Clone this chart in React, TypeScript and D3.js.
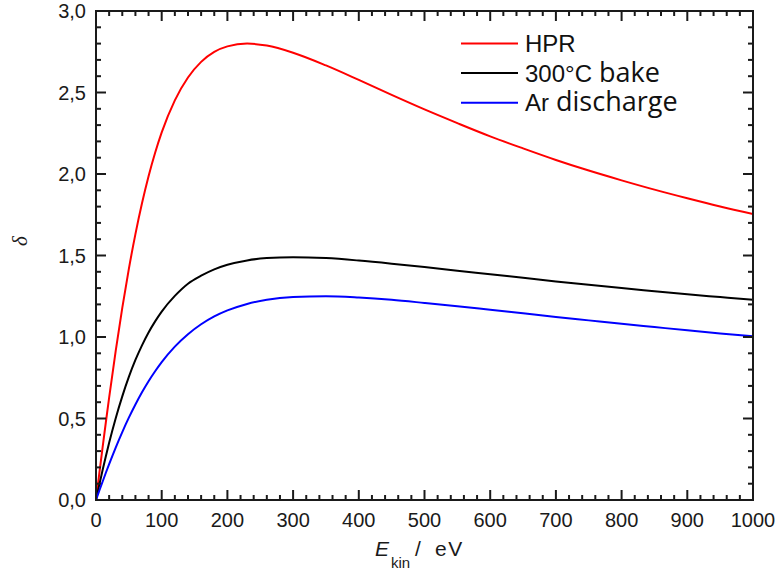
import React from "react";
import * as d3 from "d3";

const energies = [0, 5, 10, 15, 20, 30, 40, 50, 60, 70, 80, 90, 100, 120, 140, 160, 180, 200, 230, 260, 300, 350, 400, 450, 500, 550, 600, 650, 700, 750, 800, 850, 900, 950, 1000];
const hpr = [0, 0.162, 0.321, 0.477, 0.628, 0.915, 1.179, 1.418, 1.631, 1.82, 1.986, 2.13, 2.255, 2.452, 2.592, 2.688, 2.749, 2.783, 2.8, 2.788, 2.744, 2.666, 2.577, 2.485, 2.396, 2.312, 2.231, 2.157, 2.086, 2.021, 1.961, 1.904, 1.851, 1.801, 1.755];
const bake = [0, 0.093, 0.183, 0.269, 0.351, 0.502, 0.636, 0.755, 0.859, 0.949, 1.028, 1.096, 1.156, 1.252, 1.327, 1.376, 1.415, 1.443, 1.47, 1.484, 1.49, 1.484, 1.469, 1.45, 1.429, 1.407, 1.385, 1.363, 1.341, 1.32, 1.3, 1.281, 1.262, 1.245, 1.228];
const argon = [0, 0.057, 0.112, 0.167, 0.22, 0.322, 0.417, 0.505, 0.586, 0.661, 0.729, 0.79, 0.846, 0.941, 1.017, 1.078, 1.126, 1.163, 1.203, 1.228, 1.245, 1.25, 1.242, 1.228, 1.209, 1.189, 1.167, 1.145, 1.123, 1.102, 1.081, 1.061, 1.041, 1.022, 1.005];

const seriesNames = ["HPR", "300°C bake", "Ar discharge"];
const seriesColors = ["#ff0000", "#000000", "#0000ff"];
const xTicks = [0, 100, 200, 300, 400, 500, 600, 700, 800, 900, 1000];
const yTicks = [0, 0.5, 1.0, 1.5, 2.0, 2.5, 3.0];

export default function App() {
  const W = 778, H = 575;
  const L = 96, R = 753, T = 11, B = 500;
  const x = d3.scaleLinear().domain([0, 1000]).range([L, R]);
  const y = d3.scaleLinear().domain([0, 3]).range([B, T]);
  const line = d3.line<number>().x((_, i) => x(energies[i])).y((v) => y(v)).curve(d3.curveMonotoneX);
  const all = [hpr, bake, argon];
  const xMinor = d3.range(0, 1000.01, 20).filter((v) => Math.round(v) % 100 !== 0);
  const yMinor = d3.range(0, 3.001, 0.1).map((v) => Math.round(v * 10) / 10).filter((v) => Math.round(v * 10) % 5 !== 0);
  const fmt = (v: number) => d3.format(".1f")(v).replace(".", ",");
  const tickColor = "#1a1a1a";
  const sans = "'Liberation Sans', Arial, sans-serif";
  const legendFontB = "'Open Sans', sans-serif";
  return (
    <svg width={W} height={H} style={{ position: "absolute", left: 0, top: 0, background: "#fff" }}>
      <rect x={0} y={0} width={W} height={H} fill="#fff" />
      <defs>
        <clipPath id="clip">
          <rect x={L} y={T} width={R - L} height={B - T} />
        </clipPath>
      </defs>
      <g clipPath="url(#clip)">
        {all.map((s, i) => (
          <path key={i} d={line(s) || ""} fill="none" stroke={seriesColors[i]} strokeWidth={2} />
        ))}
      </g>
      <g stroke={tickColor} strokeWidth={2}>
        {xTicks.map((t) => (
          <g key={"xt" + t}>
            <line x1={x(t)} x2={x(t)} y1={B} y2={B - 10} />
            <line x1={x(t)} x2={x(t)} y1={T} y2={T + 10} />
          </g>
        ))}
        {xMinor.map((t) => (
          <g key={"xm" + t}>
            <line x1={x(t)} x2={x(t)} y1={B} y2={B - 5} />
            <line x1={x(t)} x2={x(t)} y1={T} y2={T + 5} />
          </g>
        ))}
        {yTicks.map((t) => (
          <g key={"yt" + t}>
            <line x1={L} x2={L + 10} y1={y(t)} y2={y(t)} />
            <line x1={R} x2={R - 10} y1={y(t)} y2={y(t)} />
          </g>
        ))}
        {yMinor.map((t) => (
          <g key={"ym" + t}>
            <line x1={L} x2={L + 5} y1={y(t)} y2={y(t)} />
            <line x1={R} x2={R - 5} y1={y(t)} y2={y(t)} />
          </g>
        ))}
      </g>
      <rect x={L} y={T} width={R - L} height={B - T} fill="none" stroke={tickColor} strokeWidth={2} />
      <g fontFamily={sans} fontSize={20} fill="#1a1a1a">
        {xTicks.map((t) => (
          <text key={"xl" + t} x={x(t)} y={527} textAnchor="middle">{t}</text>
        ))}
        {yTicks.map((t) => (
          <text key={"yl" + t} x={86} y={y(t) + 7} textAnchor="end">{fmt(t)}</text>
        ))}
      </g>
      <g fontFamily={sans} fill="#1a1a1a">
        <text x={375} y={556} fontSize={21} fontStyle="italic">E</text>
        <text x={391} y={568} fontSize={15}>kin</text>
        <text x={415} y={556} fontSize={21}>/</text>
        <text x={435} y={556} fontSize={21} letterSpacing={1.5}>eV</text>
      </g>
      <text transform="translate(27,241) rotate(-90)" textAnchor="middle" fontFamily="'Liberation Serif', 'Times New Roman', serif" fontStyle="italic" fontSize={21} fill="#1a1a1a">δ</text>
      {seriesNames.map((n, i) => {
        const ly = 43.5 + i * 29.6;
        const parts = n.split(" ");
        return (
          <g key={n}>
            <line x1={461} x2={518} y1={ly} y2={ly} stroke={seriesColors[i]} strokeWidth={2} />
            <text x={525} y={ly + 8.5} fill="#111">
              <tspan fontFamily={sans} fontSize={24}>{parts[0]}</tspan>
              {parts.length > 1 ? <tspan fontFamily={legendFontB} fontSize={27}>{" " + parts.slice(1).join(" ")}</tspan> : null}
            </text>
          </g>
        );
      })}
    </svg>
  );
}
